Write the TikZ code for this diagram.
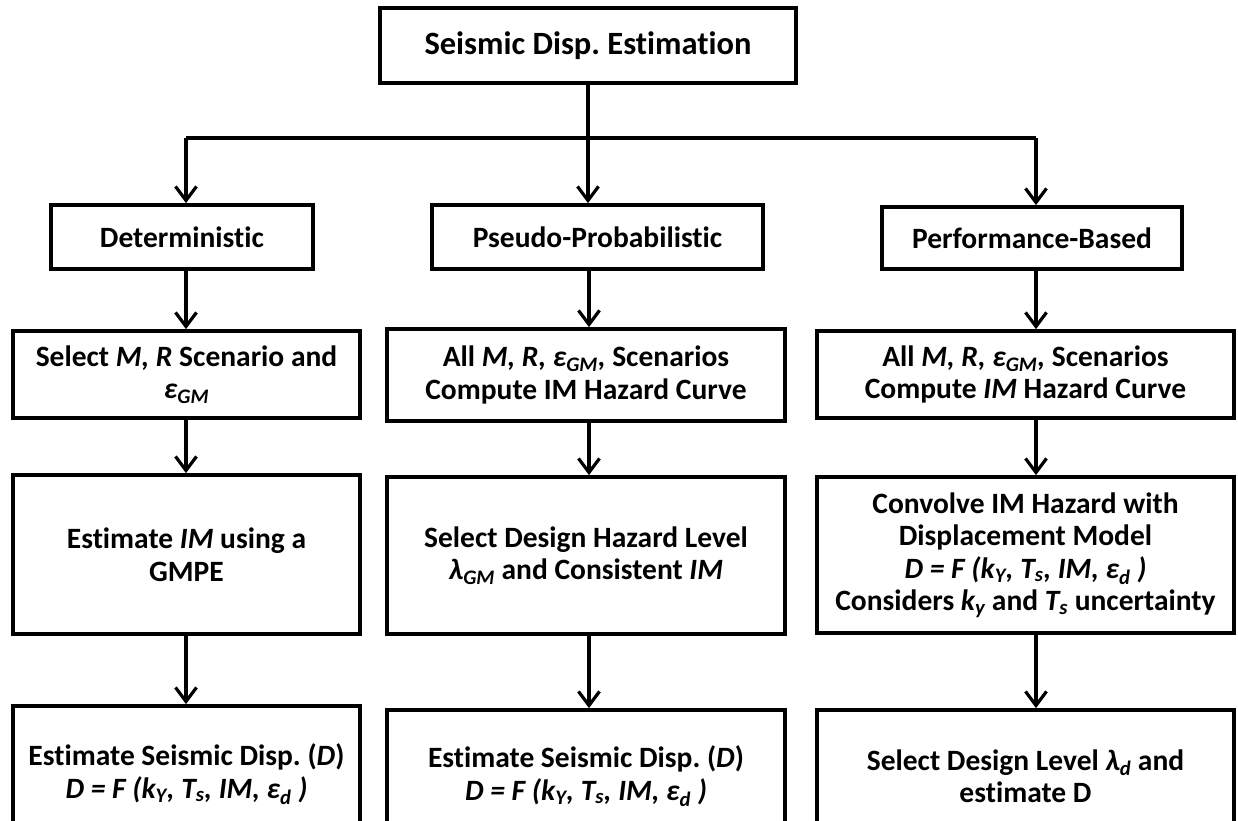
\documentclass[tikz,border=0pt]{standalone}
\usepackage{fontspec}
\setmainfont{Carlito}[Ligatures={NoCommon}]
\usetikzlibrary{arrows.meta}
\newcommand{\sbs}[1]{\textsubscript{#1}}
\frenchspacing
\begin{document}
\begin{tikzpicture}[x=1pt,y=-1pt,
  box/.style={draw, line width=3.8pt, align=center, inner sep=0pt,
    font=\fontsize{29.5}{32.5}\selectfont\bfseries},
  conn/.style={line width=3.2pt},
  arr/.style={line width=3.2pt, -{Straight Barb[length=14pt,width=21pt]}}]
\useasboundingbox (0,0) rectangle (1238,820);
% top
\node[box, minimum width=416, minimum height=75, font=\fontsize{32.5}{36}\selectfont\bfseries] (top) at (588,45.5) {Seismic Disp. Estimation};
% row 2
\node[box, minimum width=262, minimum height=64] (det2) at (182,237) {Deterministic};
\node[box, minimum width=331, minimum height=64] (pse2) at (597.5,237) {Pseudo-Probabilistic};
\node[box, minimum width=300, minimum height=62] (per2) at (1032,238) {Performance-Based};
% row 3
\node[box, minimum width=347, minimum height=87] (det3) at (186.5,374.5) {Select \textit{M, R} Scenario and\\ \textit{ε\sbs{GM}}};
\node[box, minimum width=398, minimum height=92] (pse3) at (586,375) {All \textit{M, R, ε\sbs{GM},} Scenarios\\ Compute IM Hazard Curve};
\node[box, minimum width=417, minimum height=87] (per3) at (1025.5,374.5) {All \textit{M, R, ε\sbs{GM},} Scenarios\\ Compute \textit{IM} Hazard Curve};
% row 4
\node[box, minimum width=347, minimum height=159] (det4) at (186.5,554.5) {Estimate \textit{IM} using a\\ GMPE};
\node[box, minimum width=398, minimum height=157] (pse4) at (586,555.5) {Select Design Hazard Level\\ \textit{λ\sbs{GM}} and Consistent \textit{IM}};
\node[box, minimum width=417, minimum height=156] (per4) at (1025.5,555) {Convolve IM Hazard with\\ Displacement Model\\ \textit{D = F (k\sbs{Y}, T\sbs{s}, IM, ε\sbs{d} )}\\ Considers \textit{k\sbs{y}} and \textit{T\sbs{s}} uncertainty};
% row 5
\node[box, minimum width=347, minimum height=136] (det5) at (186.5,774) {Estimate Seismic Disp. (\textit{D})\\ \textit{D = F (k\sbs{Y}, T\sbs{s}, IM, ε\sbs{d} )}};
\node[box, minimum width=398, minimum height=132] (pse5) at (586,776) {Estimate Seismic Disp. (\textit{D})\\ \textit{D = F (k\sbs{Y}, T\sbs{s}, IM, ε\sbs{d} )}};
\node[box, minimum width=417, minimum height=132] (per5) at (1025.5,776) {Select Design Level \textit{λ\sbs{d}} and\\ estimate D};
% connectors
\coordinate (cD) at (186,0);
\coordinate (cP) at (589,0);
\coordinate (cR) at (1036,0);
\coordinate (barM) at (588,138);
\draw[conn] (top.south) -- (barM);
\draw[conn] (barM -| cD) -- (barM -| cR);
\draw[arr] (barM -| cD) -- (det2.north -| cD);
\draw[arr] (barM) -- (pse2.north -| barM);
\draw[arr] (barM -| cR) -- (per2.north -| cR);
\draw[arr] (det2.south -| cD) -- (det3.north -| cD);
\draw[arr] (pse2.south -| cP) -- (pse3.north -| cP);
\draw[arr] (per2.south -| cR) -- (per3.north -| cR);
\draw[arr] (det3.south -| cD) -- (det4.north -| cD);
\draw[arr] (pse3.south -| cP) -- (pse4.north -| cP);
\draw[arr] (per3.south -| cR) -- (per4.north -| cR);
\draw[arr] (det4.south -| cD) -- (det5.north -| cD);
\draw[arr] (pse4.south -| cP) -- (pse5.north -| cP);
\draw[arr] (per4.south -| cR) -- (per5.north -| cR);
\end{tikzpicture}
\end{document}
